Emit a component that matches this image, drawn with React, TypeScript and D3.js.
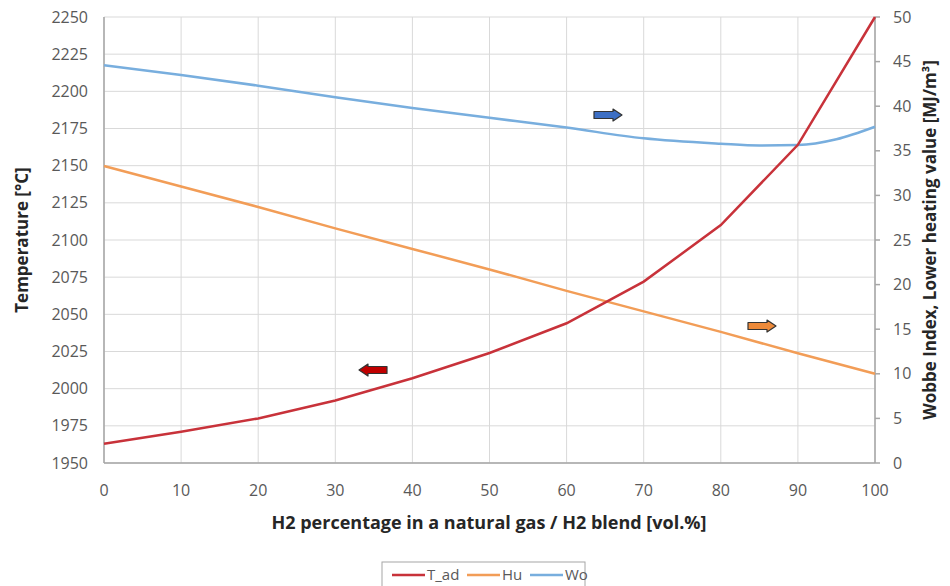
import React from 'react';
import * as d3 from 'd3';

// H2 share [vol.%]
const h2Pct = [0, 10, 20, 30, 40, 50, 60, 70, 80, 90, 100];
// adiabatic flame temperature [°C]
const tAd = [1963, 1971, 1980, 1992, 2007, 2024, 2044, 2072, 2110, 2164, 2250];
// lower heating value [MJ/m³]
const hu = [33.3, 31.0, 28.7, 26.3, 24.0, 21.7, 19.3, 17.0, 14.7, 12.3, 10.0];
// Wobbe index [MJ/m³]
const woPct = [0, 10, 20, 30, 40, 50, 60, 70, 80, 85, 90, 95, 100];
const wo = [44.6, 43.5, 42.3, 41.0, 39.8, 38.7, 37.6, 36.4, 35.8, 35.6, 35.65, 36.3, 37.7];

const xTicks = d3.range(0, 101, 10);
const leftTicks = d3.range(1950, 2251, 25);
const rightTicks = d3.range(0, 51, 5);

const legendItems = [
  { name: 'T_ad', color: '#c8323a' },
  { name: 'Hu', color: '#f29d57' },
  { name: 'Wo', color: '#78aede' },
];

const font = "'Open Sans', 'Liberation Sans', sans-serif";

function BlockArrow({ x, y, dir, fill }: { x: number; y: number; dir: number; fill: string }) {
  // small block arrow, dir=1 points right, -1 points left
  const w = 28, h = 7, head = 9, hh = 12;
  const body = w - head;
  const pts = [
    [0, -h / 2], [body, -h / 2], [body, -hh / 2], [w, 0], [body, hh / 2], [body, h / 2], [0, h / 2],
  ].map(([px, py]) => `${x + dir * px},${y + py}`).join(' ');
  return <polygon points={pts} fill={fill} stroke="#333" strokeWidth={1.2} strokeLinejoin="round" />;
}

export default function App() {
  const width = 950, height = 586;
  const m = { left: 104, right: 875, top: 17, bottom: 463 };

  const x = d3.scaleLinear().domain([0, 100]).range([m.left, m.right]);
  const yL = d3.scaleLinear().domain([1950, 2250]).range([m.bottom, m.top]);
  const yR = d3.scaleLinear().domain([0, 50]).range([m.bottom, m.top]);

  const tLine = d3.line<number>().x((_, i) => x(h2Pct[i])).y((d) => yL(d));
  const huLine = d3.line<number>().x((_, i) => x(h2Pct[i])).y((d) => yR(d));
  const woLine = d3.line<number>().x((_, i) => x(woPct[i])).y((d) => yR(d)).curve(d3.curveMonotoneX);

  const tickColor = '#595959';

  return (
    <svg width={width} height={height} style={{ position: 'absolute', left: 0, top: 0, background: '#fff' }}>
      <rect width={width} height={height} fill="#fff" />
      {/* grid */}
      {leftTicks.map((t) => (
        <line key={'h' + t} x1={m.left} x2={m.right} y1={yL(t)} y2={yL(t)} stroke="#d9d9d9" strokeWidth={1} />
      ))}
      {xTicks.map((t) => (
        <line key={'v' + t} x1={x(t)} x2={x(t)} y1={m.top} y2={m.bottom} stroke="#d9d9d9" strokeWidth={1} />
      ))}
      {/* axes */}
      <line x1={m.left} x2={m.left} y1={m.top} y2={m.bottom} stroke="#a6a6a6" strokeWidth={1.5} />
      <line x1={m.left} x2={m.right} y1={m.bottom} y2={m.bottom} stroke="#a6a6a6" strokeWidth={1.5} />
      <line x1={m.right} x2={m.right} y1={m.top} y2={m.bottom} stroke="#a6a6a6" strokeWidth={1.5} />
      {rightTicks.map((t) => (
        <line key={'rt' + t} x1={m.right} x2={m.right + 5} y1={yR(t)} y2={yR(t)} stroke="#a6a6a6" strokeWidth={1.5} />
      ))}
      {/* tick labels */}
      {leftTicks.map((t) => (
        <text key={'lt' + t} x={88} y={yL(t)} dy="0.35em" textAnchor="end" fontFamily={font} fontSize={16} fill={tickColor}>{t}</text>
      ))}
      {rightTicks.map((t) => (
        <text key={'rl' + t} x={m.right + 18} y={yR(t)} dy="0.35em" textAnchor="start" fontFamily={font} fontSize={16} fill={tickColor}>{t}</text>
      ))}
      {xTicks.map((t) => (
        <text key={'xl' + t} x={x(t)} y={490} dy="0.35em" textAnchor="middle" fontFamily={font} fontSize={16} fill={tickColor}>{t}</text>
      ))}
      {/* axis titles */}
      <text x={489} y={523} dy="0.35em" textAnchor="middle" fontFamily={font} fontSize={18} fontWeight="bold" fill="#262626">
        H2 percentage in a natural gas / H2 blend [vol.%]
      </text>
      <text transform={`translate(22,${(m.top + m.bottom) / 2}) rotate(-90)`} dy="0.35em" textAnchor="middle" fontFamily={font} fontSize={17} fontWeight="bold" fill="#262626">
        Temperature [°C]
      </text>
      <text transform={`translate(930,${(m.top + m.bottom) / 2}) rotate(-90)`} dy="0.35em" textAnchor="middle" fontFamily={font} fontSize={17} fontWeight="bold" fill="#262626">
        Wobbe Index, Lower heating value [MJ/m³]
      </text>
      {/* series */}
      <path d={woLine(wo) || ''} fill="none" stroke={legendItems[2].color} strokeWidth={2.5} />
      <path d={huLine(hu) || ''} fill="none" stroke={legendItems[1].color} strokeWidth={2.5} />
      <path d={tLine(tAd) || ''} fill="none" stroke={legendItems[0].color} strokeWidth={2.5} />
      {/* arrows */}
      <BlockArrow x={594} y={115} dir={1} fill="#3d6fc4" />
      <BlockArrow x={748} y={326} dir={1} fill="#ed8a3a" />
      <BlockArrow x={387} y={370} dir={-1} fill="#c00000" />
      {/* legend */}
      <rect x={382} y={562} width={203} height={30} fill="#fff" stroke="#a6a6a6" strokeWidth={1} />
      {legendItems.map((it, i) => {
        const lx = [392, 467, 530][i];
        return (
          <g key={it.name}>
            <line x1={lx} x2={lx + 33} y1={575} y2={575} stroke={it.color} strokeWidth={2.5} />
            <text x={lx + 35} y={575} dy="0.35em" fontFamily={font} fontSize={15} fill={tickColor}>{it.name}</text>
          </g>
        );
      })}
    </svg>
  );
}
